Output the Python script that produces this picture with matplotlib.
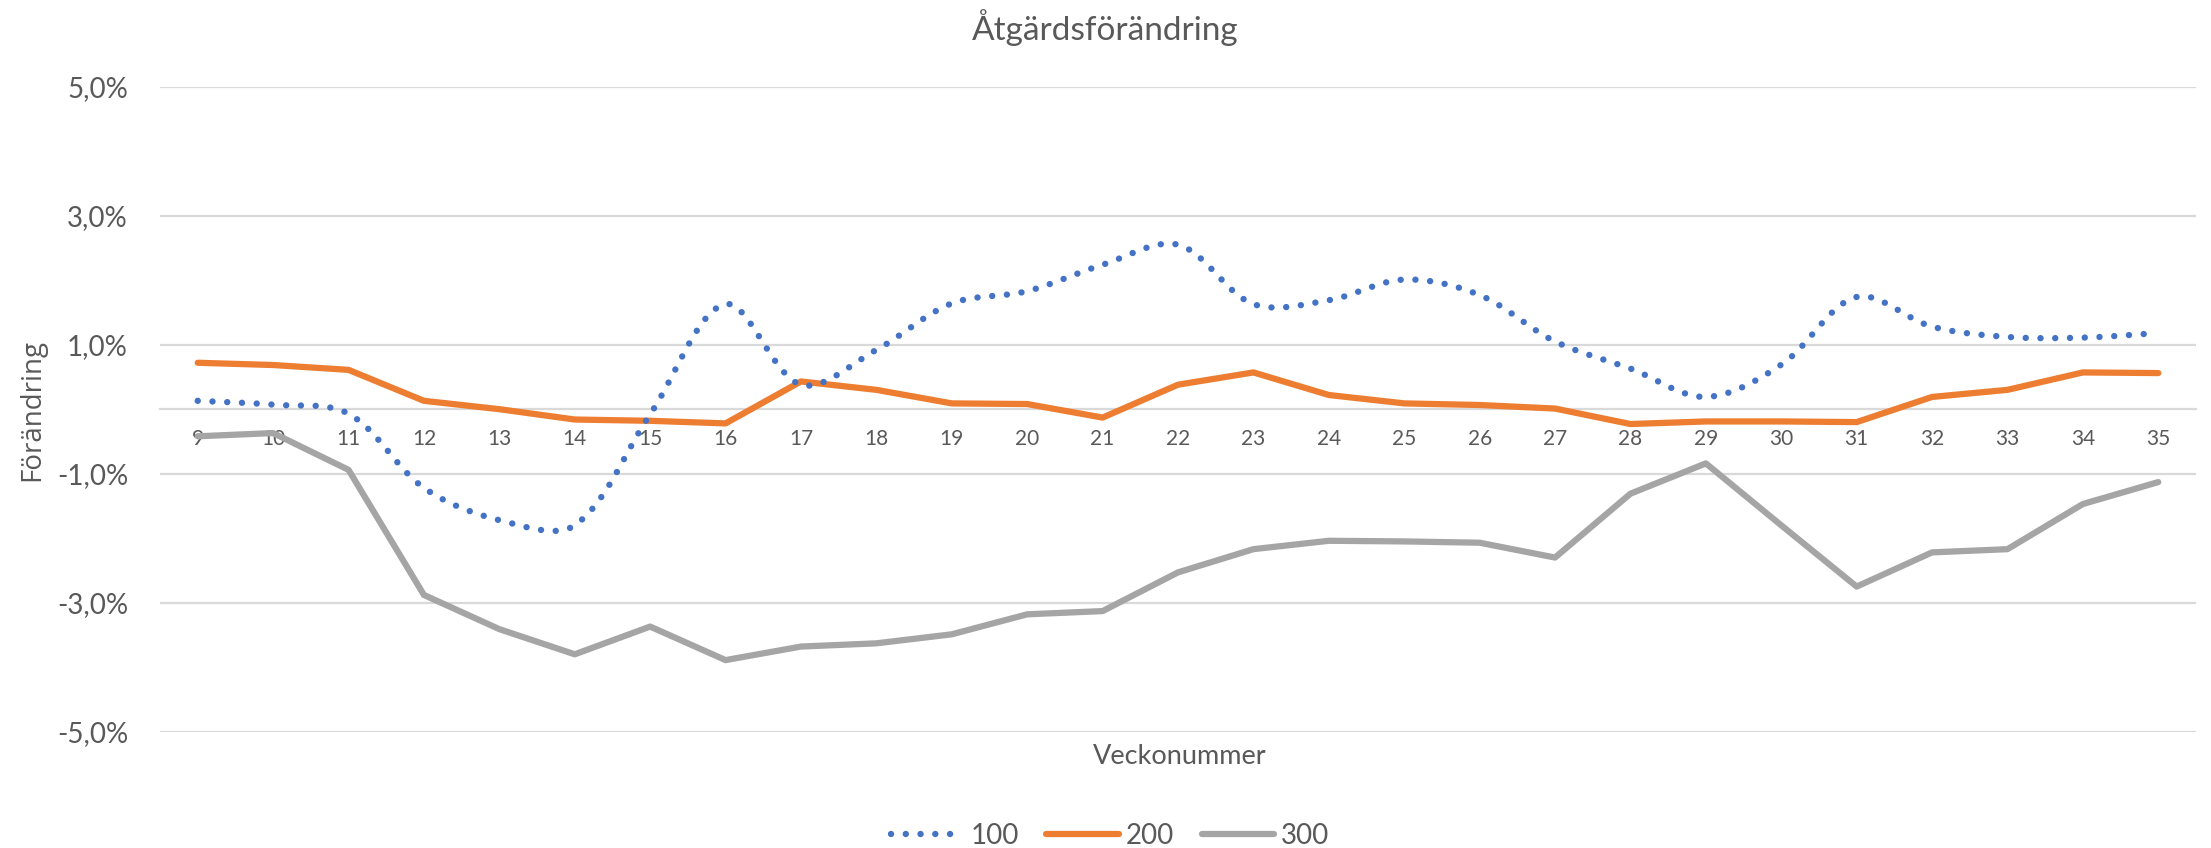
import numpy as np
import matplotlib
matplotlib.use("Agg")
import matplotlib.pyplot as plt
from matplotlib.ticker import FuncFormatter

### Data (percent)
veckor = list(range(9, 36))
serie_100 = [0.13, 0.07, -0.07, -1.22, -1.72, -1.80, -0.08, 1.63, 0.38, 0.92,
             1.64, 1.83, 2.24, 2.55, 1.63, 1.69, 2.01, 1.77, 1.05, 0.63,
             0.19, 0.69, 1.74, 1.28, 1.12, 1.11, 1.18]
serie_200 = [0.72, 0.685, 0.61, 0.13, 0.0, -0.16, -0.18, -0.22, 0.43, 0.30,
             0.09, 0.08, -0.13, 0.38, 0.57, 0.22, 0.09, 0.065, 0.01, -0.23,
             -0.19, -0.19, -0.20, 0.19, 0.30, 0.57, 0.56]
serie_300 = [-0.42, -0.37, -0.94, -2.88, -3.41, -3.80, -3.37, -3.89, -3.68, -3.63,
             -3.49, -3.18, -3.13, -2.53, -2.17, -2.04, -2.05, -2.07, -2.30, -1.31,
             -0.84, -1.80, -2.75, -2.22, -2.17, -1.47, -1.13]
namn = ["100", "200", "300"]
yticks = [-5, -3, -1, 1, 3, 5]

BLUE = "#4472C4"
ORANGE = "#ED7D31"
GRAY = "#A5A5A5"
GRID = "#D9D9D9"
TXT = "#595959"

# pixel size of one unit on each axis (for the smoothing only)
SX, SY = 75.4, 64.5


def smooth(x, y, n=30):
    # Excel-like smoothed line: bezier with chord-length weighted tangents
    p = np.column_stack([np.asarray(x, float) * SX, np.asarray(y, float) * SY])
    p = np.vstack([p[0], p, p[-1]])
    t = np.linspace(0, 1, n)[:, None]
    out = []
    for i in range(1, len(p) - 2):
        p0, p3 = p[i], p[i + 1]
        d_prev = np.linalg.norm(p[i] - p[i - 1])
        d_cur = np.linalg.norm(p[i + 1] - p[i])
        d_next = np.linalg.norm(p[i + 2] - p[i + 1])
        f1 = d_cur / (d_prev + d_cur) / 3 if d_prev + d_cur > 0 else 0
        f2 = d_cur / (d_cur + d_next) / 3 if d_cur + d_next > 0 else 0
        p1 = p0 + (p[i + 1] - p[i - 1]) * f1
        p2 = p3 - (p[i + 2] - p[i]) * f2
        b = (1 - t) ** 3 * p0 + 3 * (1 - t) ** 2 * t * p1 + 3 * (1 - t) * t ** 2 * p2 + t ** 3 * p3
        out.append(b)
    b = np.vstack(out)
    return b[:, 0] / SX, b[:, 1] / SY


fig = plt.figure(figsize=(22.11, 8.48), dpi=100)
ax = fig.add_axes([160 / 2211, 1 - 731.7 / 848, (2196 - 160) / 2211, (731.7 - 86.7) / 848])

sx, sy = smooth(veckor, serie_100)
ax.plot(sx, sy, color=BLUE, lw=4.6, linestyle=(0, (0.01, 2.3)),
        dash_capstyle="round", label=namn[0], zorder=4)
ax.plot(veckor, serie_200, color=ORANGE, lw=4.5, solid_capstyle="round",
        solid_joinstyle="round", label=namn[1], zorder=3)
ax.plot(veckor, serie_300, color=GRAY, lw=4.5, solid_capstyle="round",
        solid_joinstyle="round", label=namn[2], zorder=2)

ax.set_xlim(8.5, 35.5)
ax.set_ylim(-5, 5)
ax.set_yticks(yticks)
ax.yaxis.set_major_formatter(FuncFormatter(lambda v, p: f"{v:.1f}%".replace(".", ",")))
ax.grid(axis="y", color=GRID, lw=1.6)
ax.set_axisbelow(True)
for s in ["top", "right", "left"]:
    ax.spines[s].set_visible(False)
ax.spines["bottom"].set_position(("data", 0))
ax.spines["bottom"].set_color(GRID)
ax.spines["bottom"].set_linewidth(1.6)
ax.set_xticks(veckor)
ax.set_xticklabels([str(v) for v in veckor], fontsize=15, color=TXT, family="Lato")
ax.tick_params(axis="x", length=0, pad=14)
ax.tick_params(axis="y", length=0, pad=23, labelsize=20, labelcolor=TXT)
for lab in ax.get_yticklabels():
    lab.set_family("Lato")

fig.text(1105 / 2211, 1 - 28 / 848, "Åtgärdsförändring", ha="center", va="center",
         fontsize=24, color=TXT, family="Lato")
fig.text(32 / 2211, 1 - 410 / 848, "Förändring", ha="center", va="center",
         rotation=90, fontsize=20, color=TXT, family="Open Sans")
fig.text(1180 / 2211, 1 - 757 / 848, "Veckonummer", ha="center", va="center",
         fontsize=19.5, color=TXT, family="Lato")

leg = fig.legend(loc="center", bbox_to_anchor=(1110 / 2211, 1 - 836 / 848), ncol=3,
                 frameon=False, handlelength=2.6, handletextpad=0.25, columnspacing=1.0,
                 prop={"family": "Lato", "size": 20})
for t in leg.get_texts():
    t.set_color(TXT)

fig.savefig("out.png", dpi=100)
